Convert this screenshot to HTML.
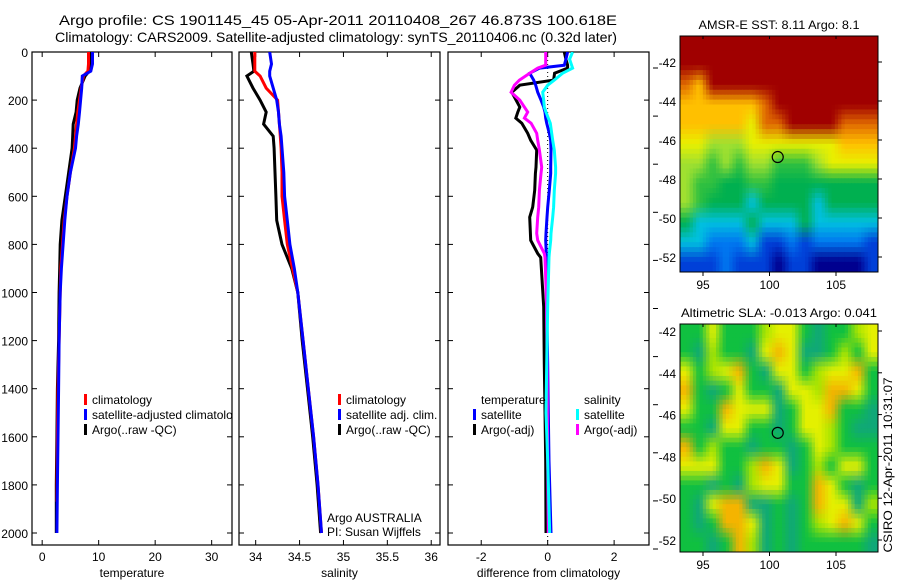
<!DOCTYPE html>
<html><head><meta charset="utf-8"><style>
html,body{margin:0;padding:0;background:#fff;}
svg{display:block;font-family:"Liberation Sans",sans-serif;}
</style></head><body>
<svg id="fig" width="900" height="580" viewBox="0 0 900 580">
<defs>
<clipPath id="c1"><rect x="32" y="52" width="200" height="493"/></clipPath>
<clipPath id="c2"><rect x="239" y="52" width="201" height="493"/></clipPath>
<clipPath id="c3"><rect x="448" y="52" width="201" height="493"/></clipPath>
<clipPath id="cm1"><rect x="680" y="36" width="198" height="236"/></clipPath>
<clipPath id="cm2"><rect x="680" y="324" width="198" height="228"/></clipPath>
</defs>
<text x="59" y="25" font-size="14" textLength="558" lengthAdjust="spacingAndGlyphs">Argo profile: CS 1901145_45 05-Apr-2011 20110408_267 46.873S 100.618E</text>
<text x="55" y="42" font-size="14" textLength="562" lengthAdjust="spacingAndGlyphs">Climatology: CARS2009. Satellite-adjusted climatology: synTS_20110406.nc (0.32d later)</text>
<g id="g1"></g>
<g id="g2"></g>
<g id="g3"></g>
<g id="m1"></g>
<g id="m2"></g>
<text transform="translate(892,465) rotate(-90)" text-anchor="middle" font-size="12" textLength="175" lengthAdjust="spacingAndGlyphs">CSIRO 12-Apr-2011 10:31:07</text>
</svg>
<script>
const NS="http://www.w3.org/2000/svg";
const depths=[0,50,80,100,150,200,250,300,350,400,500,600,700,800,900,1000,1200,1400,1600,1800,2000];
const tempArgo=[8.5,8.5,8.3,7.6,6.7,6.2,6.0,5.5,5.4,5.3,4.7,4.1,3.5,3.2,3.1,3.0,2.9,2.7,2.6,2.5,2.5];
const tempClim=[8.2,8.2,8.1,7.3,6.9,6.6,6.3,6.1,5.9,5.7,5.0,4.4,3.9,3.6,3.3,3.2,3.0,2.8,2.7,2.6];
const tempSat=[8.9,8.9,8.6,7.1,7.0,6.8,6.6,6.4,6.1,5.9,5.0,4.4,4.0,3.7,3.4,3.2,3.0,2.9,2.8,2.7,2.6];
const salArgo=[33.95,33.97,33.98,33.90,33.97,34.05,34.12,34.09,34.20,34.21,34.22,34.23,34.24,34.30,34.41,34.48,34.53,34.59,34.65,34.70,34.74];
const salClim=[33.99,33.99,33.99,34.05,34.12,34.25,34.26,34.27,34.28,34.29,34.30,34.30,34.33,34.36,34.42,34.48,34.54,34.60,34.66,34.71,34.75];
const salSat=[34.16,34.18,34.16,34.16,34.20,34.24,34.26,34.27,34.29,34.30,34.32,34.33,34.36,34.39,34.44,34.48,34.54,34.60,34.66,34.71,34.75];
const dDepths=[0,30,55,67,88,117,138,167,200,229,250,275,296,338,367,408,479,505,575,645,687,754,783,838,854,1060,1300,1500,1700,2000];
const dTempSat=[0.6,0.55,0.5,-0.24,-0.54,-0.42,-0.36,-0.3,-0.2,-0.12,-0.08,-0.06,-0.03,0.05,0.09,0.1,0.09,0.09,0.05,0,-0.02,-0.05,-0.06,-0.04,-0.03,-0.03,0,0.02,0.04,0.1];
const dSalSat=[0.75,0.66,0.72,0.75,0.45,0.2,0,-0.15,-0.12,-0.1,-0.05,0.02,0.08,0.12,0.15,0.2,0.24,0.24,0.2,0.18,0.15,0.1,0.09,0.05,0.04,0,-0.03,-0.05,0,0.06];
const dSalArgo=[-0.06,-0.06,-0.06,-0.3,-0.54,-0.85,-1.0,-1.1,-0.84,-0.7,-0.6,-0.7,-0.5,-0.33,-0.3,-0.25,-0.18,-0.2,-0.25,-0.27,-0.3,-0.33,-0.3,-0.1,-0.08,-0.03,-0.02,-0.01,0,0.02];
const dTempArgo=[0.5,0.55,0.6,0.6,0.21,0.18,-0.84,-1.08,-0.95,-0.84,-0.9,-0.96,-0.78,-0.6,-0.51,-0.33,-0.35,-0.37,-0.39,-0.45,-0.54,-0.52,-0.51,-0.3,-0.21,-0.12,-0.1,-0.08,-0.06,-0.05];
const depthTicks=[0,200,400,600,800,1000,1200,1400,1600,1800,2000];
const tTicks=[0,10,20,30];
const sTicks=["34","34.5","35","35.5","36"];
const dTicks=[-2,0,2];
const lonTicks=[95,100,105];
const latTicks=[-42,-44,-46,-48,-50,-52];
const argoLon=100.618, argoLat=-46.873;
const sstRows=["999999999999999","999999999999999","a89999999999999","888888a99999999","888887aa9999aaa","776667777777888","665656655567777","655445544444444","654443444434444","433334333433333","332223112122221","111211101100001"];
const slaRows=["ggyggglyygtggly","gtlggtyoyttglgy","yglyogtyyglyyog","ogtgyggtyylooyg","yggoyyytgyyoggt","ggtyyggtgyylgtt","oglggtggtgylggg","yyyggloytglgyyg","ggtgtlyyggoygtg","gtyoottgtgoyytl","gtgooytgtglyoyg","ggtgoltgtgggggt"];
const sstPal={"0":"#00008f","1":"#0040d8","2":"#0078f0","3":"#00c0e0","4":"#00b050","5":"#30c040","6":"#a0e030","7":"#e8f000","8":"#ffc000","9":"#a00000","a":"#e06a00"};
const slaPal={"g":"#10c040","t":"#10a878","y":"#e4f000","l":"#a8e400","o":"#f4b400"};

function el(tag,attrs,parent,txt){const e=document.createElementNS(NS,tag);for(const k in attrs)e.setAttribute(k,attrs[k]);if(txt!==undefined)e.textContent=txt;parent.appendChild(e);return e;}
const Y0=52, YS=0.2405;
const yD=d=>Y0+d*YS;
function panel(g,x0,x1,xmin,xmax,clip,ticks,labelFn,xlabel){
  const sx=v=>x0+(v-xmin)/(xmax-xmin)*(x1-x0);
  const fr=el('rect',{x:x0,y:52,width:x1-x0,height:493,fill:'none',stroke:'#000','stroke-width':1.2},g);
  
  depthTicks.forEach(d=>{
    const t1=el('line',{x1:x0,x2:x0+5,y1:yD(d),y2:yD(d),stroke:'#000'},g);
    
    const t2=el('line',{x1:x1,x2:x1-5,y1:yD(d),y2:yD(d),stroke:'#000'},g);
    
  });
  ticks.forEach(t=>{
    const v=parseFloat(t), x=sx(v);
    const a=el('line',{x1:x,x2:x,y1:52,y2:57,stroke:'#000'},g);
    
    const b=el('line',{x1:x,x2:x,y1:545,y2:540,stroke:'#000'},g);
    
    const l=el('text',{x:x,y:561,'text-anchor':'middle','font-size':12},g,String(t));
    
  });
  const xl=el('text',{x:(x0+x1)/2,y:577,'text-anchor':'middle','font-size':12},g,xlabel);
  
  return sx;
}
function line(g,sx,ds,vs,color,clip,name){
  const pts=vs.map((v,i)=>sx(v).toFixed(1)+','+yD(ds[i]).toFixed(1)).join(' ');
  const p=el('polyline',{points:pts,fill:'none',stroke:color,'stroke-width':3,'clip-path':'url(#'+clip+')'},g);
  
}
function legend(g,x,y,color,text,name){
  const r=el('rect',{x:x,y:y-10,width:3,height:11,fill:color},g);
  
  const t=el('text',{x:x+8,y:y,'font-size':12},g,text);
  
}
const g1=document.getElementById('g1');
const sx1=panel(g1,32,232,-1.8,33.6,'c1',tTicks,null,'temperature');
depthTicks.forEach(d=>{const t=el('text',{x:28,y:yD(d)+5,'text-anchor':'end','font-size':12},g1,String(d));});
line(g1,sx1,depths,tempArgo,'#000','c1','temp-argo-line');
line(g1,sx1,depths.slice(0,tempClim.length-1).concat([1870]),tempClim,'#f00','c1','temp-climatology-line');
line(g1,sx1,depths,tempSat,'#00f','c1','temp-satellite-line');
const lg1=el('g',{'clip-path':'url(#c1)'},g1);

legend(lg1,84,404,'#f00','climatology','legend-climatology');
legend(lg1,84,419,'#00f','satellite-adjusted climatology','legend-satellite');
legend(lg1,84,434,'#000','Argo(..raw -QC)','legend-argo');
const g2=document.getElementById('g2');
const sx2=panel(g2,239,440,33.81,36.1,'c2',sTicks,null,'salinity');
line(g2,sx2,depths,salArgo,'#000','c2','sal-argo-line');
line(g2,sx2,depths,salClim,'#f00','c2','sal-climatology-line');
line(g2,sx2,depths,salSat,'#00f','c2','sal-satellite-line');
legend(g2,338,404,'#f00','climatology','legend-climatology');
legend(g2,338,419,'#00f','satellite adj. clim.','legend-satellite');
legend(g2,338,434,'#000','Argo(..raw -QC)','legend-argo');
const a1=el('text',{x:327,y:522,'font-size':12},g2,'Argo AUSTRALIA');
const a2=el('text',{x:327,y:536,'font-size':12},g2,'PI: Susan Wijffels');
const g3=document.getElementById('g3');
const sx3=panel(g3,448,649,-3.0,3.05,'c3',dTicks,null,'difference from climatology');
depthTicks.forEach(d=>{const t=el('line',{x1:653,x2:658,y1:yD(d)+16,y2:yD(d)+16,stroke:'#000'},g3);});
const zl=el('line',{x1:sx3(0),x2:sx3(0),y1:52,y2:545,stroke:'#000','stroke-dasharray':'1,3'},g3);

line(g3,sx3,dDepths,dTempArgo,'#000','c3','diff-temp-argo-line');
line(g3,sx3,dDepths,dTempSat,'#00f','c3','diff-temp-satellite-line');
line(g3,sx3,dDepths,dSalArgo,'#f0f','c3','diff-sal-argo-line');
line(g3,sx3,dDepths,dSalSat,'#0ff','c3','diff-sal-satellite-line');
const h1=el('text',{x:481,y:404,'font-size':12},g3,'temperature');
const h2=el('text',{x:584,y:404,'font-size':12},g3,'salinity');
legend(g3,473,419,'#00f','satellite','legend-temp-satellite');
legend(g3,473,434,'#000','Argo(-adj)','legend-temp-argo');
legend(g3,576,419,'#0ff','satellite','legend-sal-satellite');
legend(g3,576,434,'#f0f','Argo(-adj)','legend-sal-argo');
function hex(c){return [parseInt(c.slice(1,3),16),parseInt(c.slice(3,5),16),parseInt(c.slice(5,7),16)];}
function map(g,top,bottom,lat42,latPx,rows,pal,clip,title,titleY,tl){
  const L=680,R=878,lonL=93.27,lonPx=13.3;
  const sx=lon=>L+(lon-lonL)*lonPx, sy=lat=>lat42+(-42-lat)*latPx;
  const t=el('text',{x:779,y:titleY,'text-anchor':'middle','font-size':12,textLength:tl,lengthAdjust:'spacingAndGlyphs'},g,title);
  
  const cg=el('g',{'clip-path':'url(#'+clip+')'},g);
  
  const nr=rows.length, nc=rows[0].length;
  const grid=rows.map(r=>r.split('').map(ch=>hex(pal[ch])));
  const S=4, W=nc*S, H=nr*S, cw=(R-L)/W, ch=(bottom-top)/H;
  const cl=(v,m)=>Math.max(0,Math.min(m,v));
  for(let i=0;i<H;i++){for(let j=0;j<W;j++){
    const u=(j+0.5)/S-0.5, v=(i+0.5)/S-0.5;
    const j0=Math.floor(u), i0=Math.floor(v), fu=u-j0, fv=v-i0;
    const a=grid[cl(i0,nr-1)][cl(j0,nc-1)], b=grid[cl(i0,nr-1)][cl(j0+1,nc-1)];
    const c=grid[cl(i0+1,nr-1)][cl(j0,nc-1)], d=grid[cl(i0+1,nr-1)][cl(j0+1,nc-1)];
    const col=[0,1,2].map(k=>Math.round((a[k]*(1-fu)+b[k]*fu)*(1-fv)+(c[k]*(1-fu)+d[k]*fu)*fv));
    const cell=el('rect',{x:(L+j*cw-0.3).toFixed(2),y:(top+i*ch-0.3).toFixed(2),width:(cw+0.6).toFixed(2),height:(ch+0.6).toFixed(2),fill:'rgb('+col.join(',')+')'},cg);
    
    
  }}
  const fr=el('rect',{x:L,y:top,width:R-L,height:bottom-top,fill:'none',stroke:'#000'},g);
  
  lonTicks.forEach(lon=>{const x=sx(lon);
    const a=el('line',{x1:x,x2:x,y1:bottom,y2:bottom+4,stroke:'#000'},g);
    const b=el('line',{x1:x,x2:x,y1:top,y2:top+3,stroke:'#000'},g);
    const l=el('text',{x:x,y:bottom+17,'text-anchor':'middle','font-size':12},g,String(lon));});
  latTicks.forEach(lat=>{const y=sy(lat);
    const a=el('line',{x1:R,x2:R+4,y1:y,y2:y,stroke:'#000'},g);
    const l=el('text',{x:676,y:y+5,'text-anchor':'end','font-size':12},g,String(lat));});
  const c=el('circle',{cx:sx(argoLon),cy:sy(argoLat),r:5.5,fill:'none',stroke:'#000','stroke-width':1.2},g);
  
}
map(document.getElementById('m1'),36,272,62,19.5,sstRows,sstPal,'cm1','AMSR-E SST: 8.11 Argo: 8.1',29,161);
map(document.getElementById('m2'),324,552,331,20.9,slaRows,slaPal,'cm2','Altimetric SLA: -0.013 Argo: 0.041',317,196);
</script>
</body></html>
